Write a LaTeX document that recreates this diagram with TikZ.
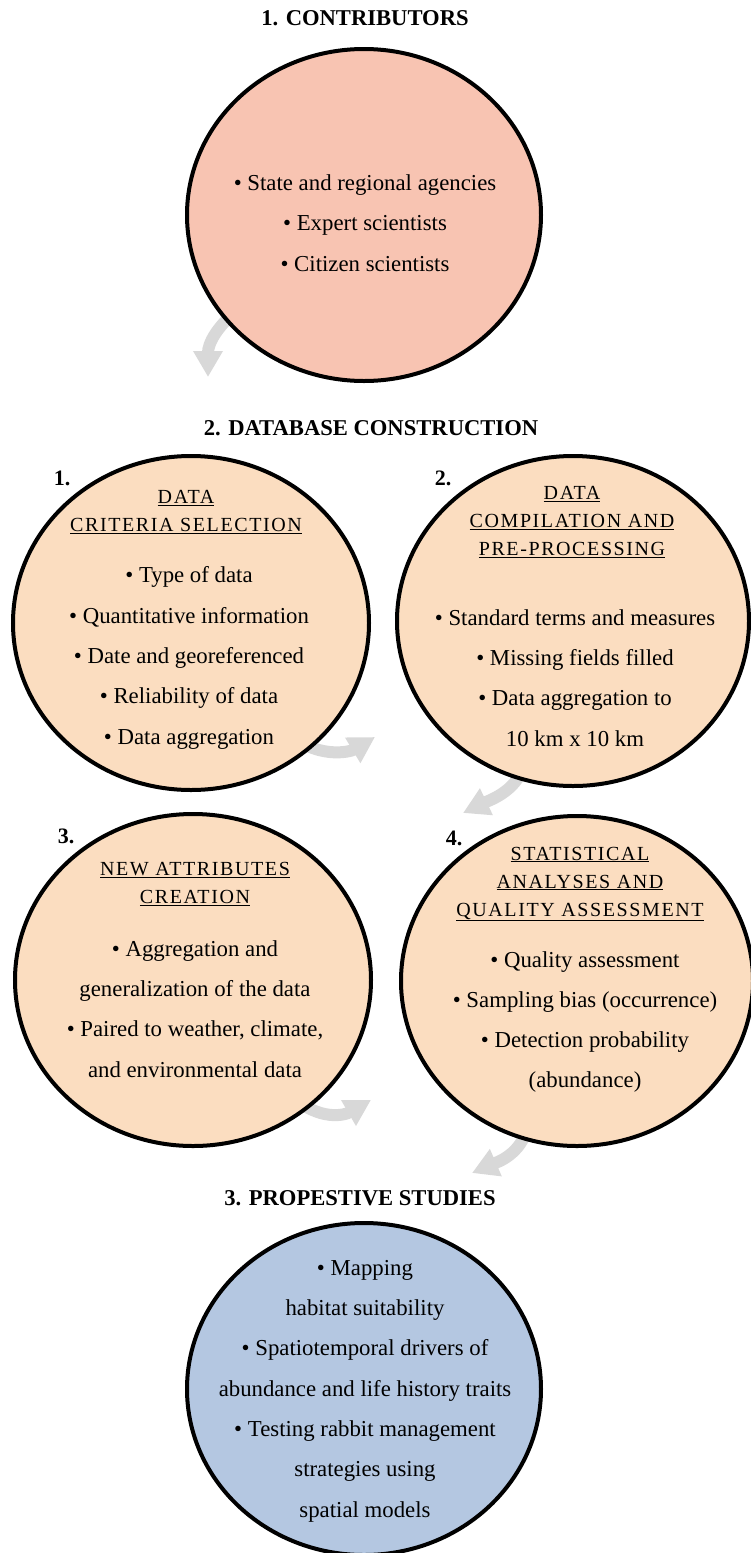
\documentclass[tikz,border=0pt]{standalone}
\usepackage{fontspec}
\setmainfont{Liberation Serif}
\newfontfamily\capsfont[LetterSpace=8]{Liberation Serif}
\usetikzlibrary{shapes.geometric,arrows.meta}
\definecolor{salmonfill}{RGB}{248,196,178}
\definecolor{peachfill}{RGB}{251,221,192}
\definecolor{bluefill}{RGB}{180,199,225}
\definecolor{arrowgray}{RGB}{216,216,216}
\tikzset{
  circ/.style={ellipse, draw=black, line width=4pt, inner sep=0pt},
  bodytext/.style={align=center, text=black, font=\fontsize{22.8}{40.3}\selectfont},
  captext/.style={align=center, text=black, font=\capsfont\fontsize{20}{28}\selectfont},
  titletext/.style={text=black, font=\bfseries\fontsize{22.6}{26}\selectfont},
  numtext/.style={text=black, font=\bfseries\fontsize{22}{26}\selectfont},
  flow/.style={draw=arrowgray, line width=12pt, -{Triangle[length=26pt,width=28pt]}}
}
\begin{document}
\begin{tikzpicture}[x=1pt,y=-1pt]
\useasboundingbox (0,0) rectangle (750,1553);
% arrow coordinates
\coordinate (a1s) at (250,300);
\coordinate (a1e) at (208,377);
\coordinate (a2s) at (285,730);
\coordinate (a2e) at (375,737);
\coordinate (a3s) at (525,760);
\coordinate (a3e) at (463,813);
\coordinate (a4s) at (290,1095);
\coordinate (a4e) at (371,1100);
\coordinate (a5s) at (528,1125);
\coordinate (a5e) at (472,1173);
% arrows (behind circles)
\draw[flow] (a1s) .. controls (215,325) and (208,345) .. (a1e);
\draw[flow] (a2s) .. controls (315,760) and (350,752) .. (a2e);
\draw[flow] (a3s) .. controls (520,790) and (490,800) .. (a3e);
\draw[flow] (a4s) .. controls (320,1122) and (345,1115) .. (a4e);
\draw[flow] (a5s) .. controls (522,1155) and (495,1163) .. (a5e);
% circles
\node[circ, fill=salmonfill, minimum width=354pt, minimum height=332pt] (c0) at (364,215) {};
\node[circ, fill=peachfill, minimum width=356pt, minimum height=334pt] (c1) at (191,623) {};
\node[circ, fill=peachfill, minimum width=352pt, minimum height=330pt] (c2) at (573,621) {};
\node[circ, fill=peachfill, minimum width=356pt, minimum height=332pt] (c3) at (193,980) {};
\node[circ, fill=peachfill, minimum width=352pt, minimum height=330pt] (c4) at (577,981) {};
\node[circ, fill=bluefill, minimum width=354pt, minimum height=332pt] (c5) at (364,1389) {};
% titles
\node[titletext] (t1) at (365,18) {1. CONTRIBUTORS};
\node[titletext] (t2) at (371,428) {2. DATABASE CONSTRUCTION};
\node[titletext] (t3) at (360,1198) {3. PROPESTIVE STUDIES};
% numbers
\node[numtext] (n1) at (62,478) {1.};
\node[numtext] (n2) at (443,478) {2.};
\node[numtext] (n3) at (66,836) {3.};
\node[numtext] (n4) at (454,838) {4.};
% contributors
\node[bodytext] (b0) at (365,223) {\textbullet\ State and regional agencies\\ \textbullet\ Expert scientists\\ \textbullet\ Citizen scientists};
% circle 1
\node[captext] (h1) at (186,512) {\underline{DATA}\\ \underline{CRITERIA SELECTION}};
\node[bodytext] (b1) at (189,658) {\textbullet\ Type of data\\ \textbullet\ Quantitative information\\ \textbullet\ Date and georeferenced\\ \textbullet\ Reliability of data\\ \textbullet\ Data aggregation};
% circle 2
\node[captext] (h2) at (572,522) {\underline{DATA}\\ \underline{COMPILATION AND}\\ \underline{PRE-PROCESSING}};
\node[bodytext] (b2) at (575,678) {\textbullet\ Standard terms and measures\\ \textbullet\ Missing fields filled\\ \textbullet\ Data aggregation to\\ 10 km x 10 km};
% circle 3
\node[captext] (h3) at (195,884) {\underline{NEW ATTRIBUTES}\\ \underline{CREATION}};
\node[bodytext] (b3) at (195,1009) {\textbullet\ Aggregation and\\ generalization of the data\\ \textbullet\ Paired to weather, climate,\\ and environmental data};
% circle 4
\node[captext] (h4) at (580,884) {\underline{STATISTICAL}\\ \underline{ANALYSES AND}\\ \underline{QUALITY ASSESSMENT}};
\node[bodytext] (b4) at (585,1022) {\textbullet\ Quality assessment\\ \textbullet\ Sampling bias (occurrence)\\ \textbullet\ Detection probability\\ (abundance)};
% blue circle
\node[bodytext] (b5) at (365,1391) {\textbullet\ Mapping\\ habitat suitability\\ \textbullet\ Spatiotemporal drivers of\\ abundance and life history traits\\ \textbullet\ Testing rabbit management\\ strategies using\\ spatial models};
\end{tikzpicture}
\end{document}
